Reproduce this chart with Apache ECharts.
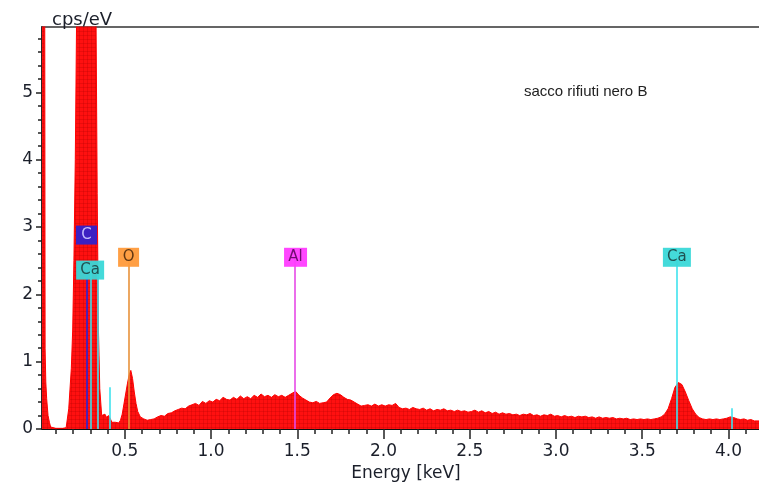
<!DOCTYPE html>
<html>
<head>
<meta charset="utf-8">
<script src="https://cdn.jsdelivr.net/npm/echarts@6/dist/echarts.min.js"></script>
<style>
html, body { margin: 0; padding: 0; background: #fff; }
#chart { width: 759px; height: 483px; }
</style>
</head>
<body>
<div id="chart"></div>
<script>
// spectrum (keV / cps per eV)
const energies = [
  0.020, 0.036, 0.038, 0.042, 0.047, 0.055, 0.063, 0.070, 0.080, 0.100, 0.120, 0.140,
  0.160, 0.175, 0.190, 0.198, 0.205, 0.213, 0.221, 0.240, 0.260, 0.280, 0.300, 0.320,
  0.333, 0.340, 0.347, 0.355, 0.366, 0.375, 0.385, 0.395, 0.405, 0.415, 0.425, 0.435,
  0.445, 0.455, 0.465, 0.475, 0.485, 0.495, 0.505, 0.515, 0.525, 0.535, 0.545, 0.555,
  0.565, 0.575, 0.59, 0.61, 0.63, 0.65, 0.67, 0.69, 0.71, 0.73, 0.75, 0.77, 0.79,
  0.81, 0.83, 0.85, 0.87, 0.89, 0.91, 0.93, 0.95, 0.97, 0.99,
  1.01, 1.03, 1.05, 1.07, 1.09, 1.11, 1.13, 1.15, 1.17, 1.19,
  1.21, 1.23, 1.25, 1.27, 1.29, 1.31, 1.33, 1.35, 1.37, 1.39,
  1.41, 1.43, 1.45, 1.47, 1.49, 1.51, 1.53, 1.55, 1.57, 1.59,
  1.61, 1.63, 1.65, 1.67, 1.69, 1.71, 1.73, 1.75, 1.77, 1.79,
  1.81, 1.83, 1.85, 1.87, 1.89, 1.91, 1.93, 1.95, 1.97, 1.99,
  2.01, 2.03, 2.05, 2.07, 2.09, 2.11, 2.13, 2.15, 2.17, 2.19,
  2.21, 2.23, 2.25, 2.27, 2.29, 2.31, 2.33, 2.35, 2.37, 2.39,
  2.41, 2.43, 2.45, 2.47, 2.49, 2.51, 2.53, 2.55, 2.57, 2.59,
  2.61, 2.63, 2.65, 2.67, 2.69, 2.71, 2.73, 2.75, 2.77, 2.79,
  2.81, 2.83, 2.85, 2.87, 2.89, 2.91, 2.93, 2.95, 2.97, 2.99,
  3.01, 3.03, 3.05, 3.07, 3.09, 3.11, 3.13, 3.15, 3.17, 3.19,
  3.21, 3.23, 3.25, 3.27, 3.29, 3.31, 3.33, 3.35, 3.37, 3.39,
  3.41, 3.43, 3.45, 3.47, 3.49, 3.51, 3.53, 3.55, 3.57, 3.59,
  3.61, 3.63, 3.65, 3.67, 3.69, 3.71, 3.73, 3.75, 3.77, 3.79,
  3.81, 3.83, 3.85, 3.87, 3.89, 3.91, 3.93, 3.95, 3.97, 3.99,
  4.01, 4.03, 4.05, 4.07, 4.09, 4.11, 4.13, 4.15, 4.177
];
const counts = [
  9, 6, 1.2, 0.7, 0.45, 0.2, 0.1, 0.03, 0.01, 0.01, 0.01, 0.01,
  0.02, 0.3, 0.9, 1.47, 2.5, 4, 6.2, 9, 11, 12, 10.5, 8,
  6.2, 3.5, 1.5, 0.6, 0.2, 0.19, 0.22, 0.17, 0.2, 0.16, 0.1, 0.08,
  0.1, 0.08, 0.09, 0.13, 0.22, 0.37, 0.52, 0.67, 0.8, 0.87, 0.75, 0.55,
  0.38, 0.26, 0.18, 0.15, 0.13, 0.14, 0.15, 0.18, 0.2, 0.19, 0.23, 0.24, 0.27,
  0.29, 0.31, 0.3, 0.34, 0.36, 0.38, 0.35, 0.41, 0.38, 0.42,
  0.4, 0.44, 0.42, 0.47, 0.44, 0.43, 0.47, 0.44, 0.49, 0.45,
  0.48, 0.45, 0.5, 0.47, 0.52, 0.48, 0.5, 0.47, 0.51, 0.48,
  0.5, 0.47, 0.5, 0.53, 0.56, 0.5, 0.46, 0.43, 0.4, 0.39,
  0.41, 0.38, 0.39, 0.4, 0.46, 0.51, 0.53, 0.51, 0.47, 0.44,
  0.43, 0.4, 0.37, 0.34, 0.35, 0.36, 0.34, 0.37, 0.34, 0.36,
  0.34, 0.36, 0.35, 0.38, 0.32, 0.3, 0.31, 0.29, 0.32, 0.3,
  0.29, 0.31, 0.28, 0.3, 0.27, 0.29, 0.28, 0.3, 0.27, 0.28,
  0.26, 0.28, 0.26, 0.27, 0.25, 0.26, 0.28, 0.25, 0.27, 0.24,
  0.26, 0.23, 0.25, 0.22, 0.24, 0.22, 0.23, 0.21, 0.22, 0.2,
  0.22, 0.21, 0.23, 0.2, 0.21, 0.19, 0.21, 0.2, 0.22, 0.19,
  0.2, 0.18, 0.2, 0.18, 0.19, 0.17, 0.19, 0.18, 0.19, 0.17,
  0.18, 0.16, 0.18, 0.16, 0.17, 0.16, 0.17, 0.15, 0.16, 0.15,
  0.16, 0.14, 0.15, 0.14, 0.15, 0.14, 0.15, 0.14, 0.15, 0.16,
  0.18, 0.22, 0.3, 0.45, 0.62, 0.69, 0.66, 0.55, 0.42, 0.3,
  0.22, 0.17, 0.15, 0.14, 0.15, 0.14, 0.15, 0.14, 0.15, 0.16,
  0.18, 0.17, 0.15, 0.14, 0.15, 0.13, 0.14, 0.12, 0.12
];

// element lines (energy, top of the line)
const lineElements = ['C', 'Ca', 'Ca', 'Ca', 'O', 'Al', 'Ca', 'Ca'];
const lineEnergies = [0.278, 0.303, 0.343, 0.414, 0.523, 1.487, 3.70, 4.02];
const lineTops = [2.36, 2.36, 2.36, 0.62, 2.55, 2.55, 2.55, 0.31];

// element label boxes
const boxElements = ['C', 'Ca', 'O', 'Al', 'Ca'];
const boxEnergies = [0.278, 0.299, 0.522, 1.49, 3.701];
const boxLevels = [2.88, 2.36, 2.55, 2.55, 2.55];

// axis ticks
const xMajor = [0.5, 1.0, 1.5, 2.0, 2.5, 3.0, 3.5, 4.0];
const xMinor = [0.1, 0.2, 0.3, 0.4, 0.5, 0.6, 0.7, 0.8, 0.9, 1.0, 1.1, 1.2, 1.3, 1.4,
  1.5, 1.6, 1.7, 1.8, 1.9, 2.0, 2.1, 2.2, 2.3, 2.4, 2.5, 2.6, 2.7, 2.8, 2.9, 3.0,
  3.1, 3.2, 3.3, 3.4, 3.5, 3.6, 3.7, 3.8, 3.9, 4.0, 4.1];
const yMajor = [0, 1, 2, 3, 4, 5];
const yMinor = [0.2, 0.4, 0.6, 0.8, 1.2, 1.4, 1.6, 1.8, 2.2, 2.4, 2.6, 2.8, 3.2, 3.4,
  3.6, 3.8, 4.2, 4.4, 4.6, 4.8, 5.2, 5.4, 5.6, 5.8];

const X_MIN = 0.02, X_MAX = 4.177, Y_MAX = 5.97;
const FONT = 'DejaVu Sans';
const TEXT = '#1b1f2a';

const elementStyle = {
  C:  { line: '#2a22d8', box: '#3322cc', text: '#c9c4ff', w: 21 },
  Ca: { line: '#3fe3ee', box: '#3ad8d8', text: '#1d4a4a', w: 28 },
  O:  { line: '#e8923a', box: '#ff9a3a', text: '#5a3210', w: 21 },
  Al: { line: '#e64ae6', box: '#ff3cff', text: '#6a0a6a', w: 23 }
};

// red fill with the faint grid of the original plot
function fillPattern() {
  const c = document.createElement('canvas');
  c.width = 4; c.height = 4;
  const ctx = c.getContext('2d');
  ctx.fillStyle = '#ff1010';
  ctx.fillRect(0, 0, 4, 4);
  ctx.fillStyle = 'rgba(170,0,0,0.25)';
  ctx.fillRect(3, 0, 1, 4);
  ctx.fillRect(0, 3, 4, 1);
  return c;
}

const chart = echarts.init(document.getElementById('chart'));

const spectrum = energies.map((e, i) => [e, counts[i]]);

const markLines = lineEnergies.map((e, i) => [
  { coord: [e, 0], lineStyle: { color: elementStyle[lineElements[i]].line, width: 1.6, type: 'solid' } },
  { coord: [e, lineTops[i]] }
]);

const boxes = boxEnergies.map((e, i) => {
  const st = elementStyle[boxElements[i]];
  return {
    value: [e, boxLevels[i]],
    name: boxElements[i],
    symbolSize: [st.w, 19],
    itemStyle: { color: st.box, opacity: 0.95 },
    label: { color: st.text }
  };
});

const baseAxis = {
  type: 'value',
  splitLine: { show: false },
  axisLine: { show: false },
  axisTick: { show: false },
  axisLabel: { show: false }
};

const option = {
  animation: false,
  backgroundColor: '#fff',
  grid: { left: 42, right: 0, top: 27, bottom: 54, containLabel: false, outerBoundsMode: 'none' },
  title: [
    { text: 'cps/eV', left: 47, top: 6, textStyle: { fontFamily: FONT, fontSize: 18, fontWeight: 'normal', color: TEXT } },
    { text: 'sacco rifiuti nero B', left: 519, top: 79, textStyle: { fontFamily: 'Liberation Sans', fontSize: 15, fontWeight: 'normal', color: '#222' } }
  ],
  xAxis: [
    {
      type: 'value', min: X_MIN, max: X_MAX, position: 'bottom',
      name: 'Energy [keV]', nameLocation: 'middle', nameGap: 30,
      nameTextStyle: { fontFamily: FONT, fontSize: 17, color: TEXT, padding: [0, 0, 0, 11] },
      splitLine: { show: false },
      axisLine: { lineStyle: { color: '#111', width: 1.8 } },
      axisTick: { customValues: xMajor, length: 10, lineStyle: { color: '#222', width: 1.5 } },
      axisLabel: { customValues: xMajor, formatter: v => v.toFixed(1), margin: 14, fontFamily: FONT, fontSize: 17, color: TEXT }
    },
    Object.assign({}, baseAxis, {
      min: X_MIN, max: X_MAX, position: 'bottom',
      axisTick: { show: true, customValues: xMinor, length: 5, lineStyle: { color: '#222', width: 1.5 } }
    }),
    Object.assign({}, baseAxis, {
      min: X_MIN, max: X_MAX, position: 'top',
      axisLine: { show: true, lineStyle: { color: '#333', width: 1.6 } }
    })
  ],
  yAxis: [
    {
      type: 'value', min: 0, max: Y_MAX, position: 'left',
      splitLine: { show: false },
      axisLine: { show: true, lineStyle: { color: '#111', width: 1.8 } },
      axisTick: { show: true, customValues: yMajor, length: 6, lineStyle: { color: '#222', width: 1.5 } },
      axisLabel: { customValues: yMajor, margin: 9, fontFamily: FONT, fontSize: 17, color: TEXT }
    },
    Object.assign({}, baseAxis, {
      min: 0, max: Y_MAX, position: 'left',
      axisTick: { show: true, customValues: yMinor, length: 4, lineStyle: { color: '#222', width: 1.5 } }
    })
  ],
  series: [
    {
      type: 'line',
      data: spectrum,
      showSymbol: false,
      sampling: 'none',
      lineStyle: { color: '#ff0000', width: 1 },
      areaStyle: { color: { image: fillPattern(), repeat: 'repeat' }, opacity: 1 },
      z: 2,
      markLine: {
        silent: true,
        symbol: ['none', 'none'],
        label: { show: false },
        data: markLines
      }
    },
    {
      type: 'scatter',
      data: boxes,
      symbol: 'rect',
      z: 5,
      label: {
        show: true,
        position: 'inside',
        formatter: p => p.name,
        fontFamily: FONT,
        fontSize: 15
      }
    }
  ]
};

chart.setOption(option);
</script>
</body>
</html>
